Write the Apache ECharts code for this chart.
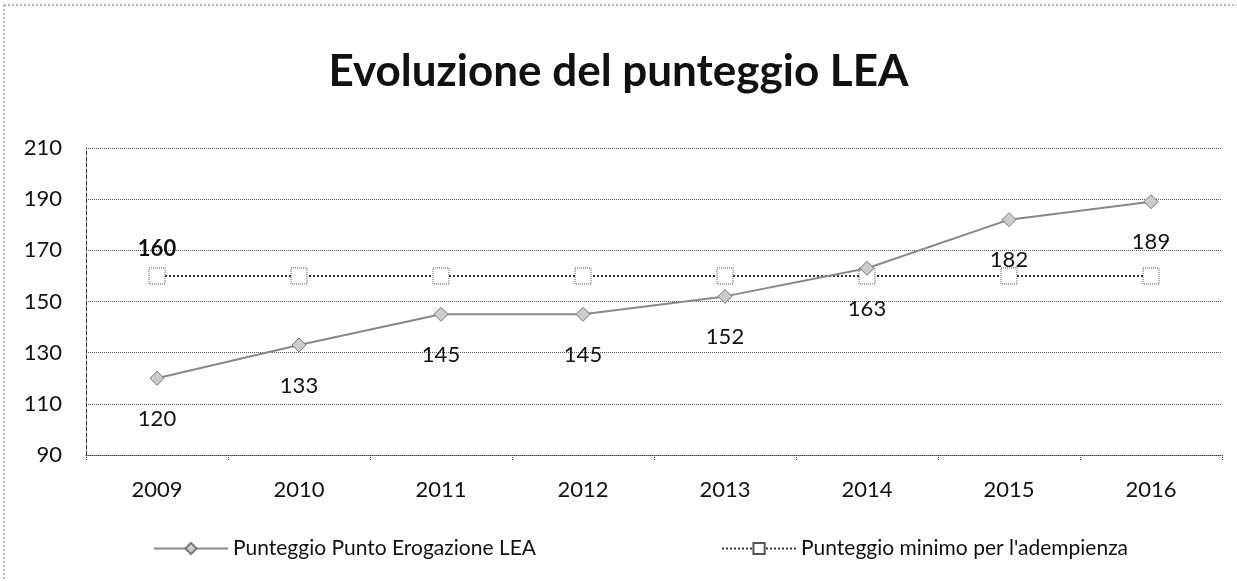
<!DOCTYPE html>
<html>
<head>
<meta charset="utf-8">
<script src="https://cdn.jsdelivr.net/npm/echarts@6/dist/echarts.min.js"></script>
<style>
html,body{margin:0;padding:0;background:#fff;}
#chart{width:1237px;height:581px;}
</style>
</head>
<body>
<div id="chart"></div>
<script>
// Years on the category axis
const years = ['2009', '2010', '2011', '2012', '2013', '2014', '2015', '2016'];
// LEA score achieved each year
const punteggioLEA = [120, 133, 145, 145, 152, 163, 182, 189];
// Minimum score required for compliance
const punteggioMinimo = [160, 160, 160, 160, 160, 160, 160, 160];
// Value axis ticks
const yMin = 90, yMax = 210, yStep = 20;

const font = 'Lato, "Open Sans", sans-serif';
const chart = echarts.init(document.getElementById('chart'));

const frameStyle = { stroke: '#777', lineWidth: 1, lineDash: [2, 2] };

chart.setOption({
  backgroundColor: '#ffffff',
  animation: false,
  title: {
    text: 'Evoluzione del punteggio LEA',
    left: 'center',
    top: 45,
    textStyle: { fontFamily: font, fontSize: 44, fontWeight: 'bold', color: '#111' }
  },
  graphic: [
    { type: 'line', shape: { x1: 4, y1: 5, x2: 4, y2: 581 }, style: frameStyle },
    { type: 'line', shape: { x1: 4, y1: 5, x2: 1237, y2: 5 }, style: frameStyle }
  ],
  legend: {
    bottom: 17,
    left: 148,
    itemGap: 185,
    itemWidth: 74,
    itemHeight: 14,
    textStyle: { fontFamily: font, fontSize: 21, color: '#111' },
    data: ['Punteggio Punto Erogazione LEA', "Punteggio minimo per l'adempienza"]
  },
  grid: { left: 86, right: 15, top: 148, bottom: 126 },
  xAxis: {
    type: 'category',
    data: years,
    boundaryGap: true,
    axisLine: { show: true, lineStyle: { color: '#444', type: 'dotted' } },
    axisTick: { show: true, length: 5, lineStyle: { color: '#444', type: 'dotted' } },
    axisLabel: { fontFamily: font, fontSize: 22, color: '#111', margin: 24 }
  },
  yAxis: {
    type: 'value',
    min: yMin, max: yMax, interval: yStep,
    axisLine: { show: true, lineStyle: { color: '#333', type: 'dashed' } },
    axisTick: { show: false },
    axisLabel: { fontFamily: font, fontSize: 22, color: '#111', margin: 24 },
    splitLine: { show: true, lineStyle: { color: '#555', type: 'dotted', width: 1 } }
  },
  series: [
    {
      name: 'Punteggio Punto Erogazione LEA',
      type: 'line',
      data: punteggioLEA,
      symbol: 'diamond',
      symbolSize: 14,
      lineStyle: { color: '#888', width: 2 },
      itemStyle: { color: '#ccc', borderColor: '#777', borderWidth: 1 },
      label: {
        show: true, position: 'bottom', distance: 22,
        fontFamily: font, fontSize: 22, color: '#111'
      },
      z: 3
    },
    {
      name: "Punteggio minimo per l'adempienza",
      type: 'line',
      data: punteggioMinimo,
      symbol: 'rect',
      symbolSize: 16,
      lineStyle: { color: '#333', width: 2, type: 'dotted' },
      itemStyle: { color: '#fff', borderColor: '#555', borderWidth: 1, borderType: 'dotted' },
      label: {
        show: true, position: 'top', distance: 8,
        fontFamily: font, fontSize: 22, fontWeight: 'bold', color: '#111',
        formatter: p => (p.dataIndex === 0 ? String(p.value) : '')
      },
      z: 2
    }
  ]
});
</script>
</body>
</html>
